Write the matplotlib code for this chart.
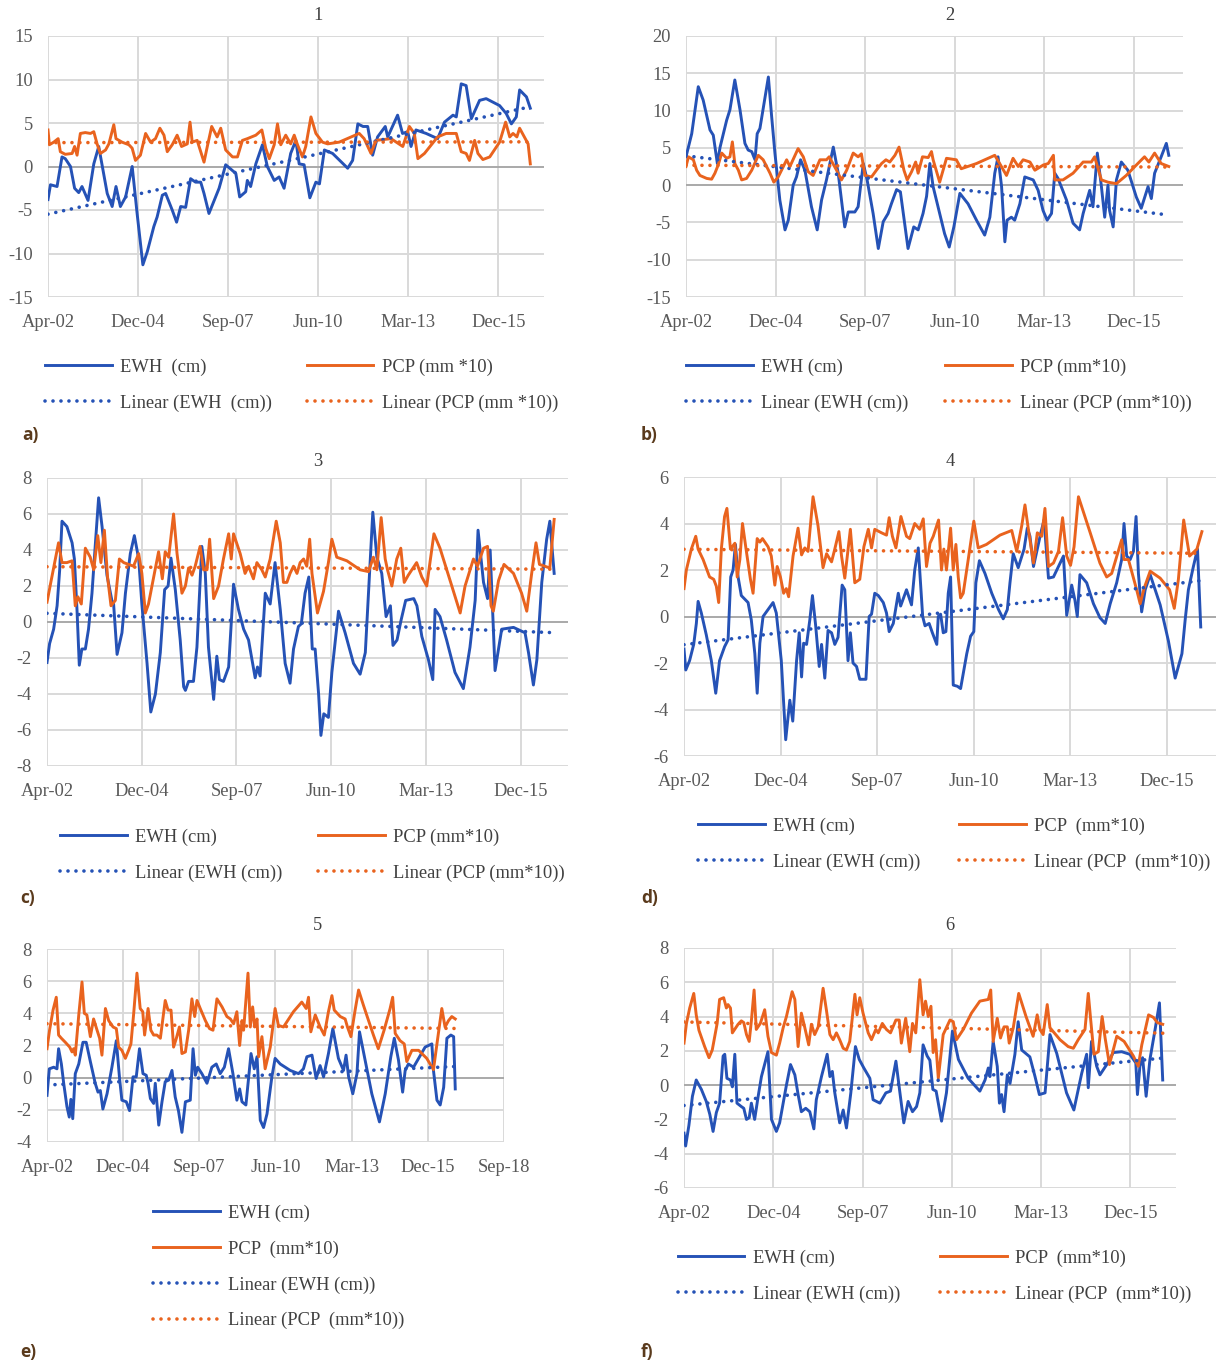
import matplotlib
matplotlib.use('Agg')
import matplotlib.pyplot as plt
import matplotlib.dates as mdates
import numpy as np

plt.rcParams['font.family'] = ['Liberation Serif', 'DejaVu Serif']
plt.rcParams['axes.unicode_minus'] = False

W, H = 1226, 1363
BLUE = '#2552B6'
ORANGE = '#E9631E'
GRID = '#D9D9D9'
TXT = '#404040'

# (months since Apr-2002, value)
ewh1 = [(0, -3.8), (0.9, -2.1), (3.3, -2.3), (5.1, 1.1), (6.3, 0.9), (8.2, 0), (9.7, -2.5), (11.2, -3.0),
        (12.4, -2.3), (14.6, -3.9), (16.7, 0.3), (18.5, 2.3), (21.6, -3.1), (23.4, -4.6), (24.8, -2.3),
        (26.4, -4.6), (28.3, -3.5), (30.7, 0), (32.5, -5.4), (34.6, -11.3), (36.2, -9.8), (38.6, -6.9),
        (39.8, -5.8), (41.7, -3.3), (42.9, -3.1), (45.3, -5.0), (46.9, -6.4), (48.4, -4.6), (50.2, -4.7),
        (52.0, -1.4), (53.8, -1.8), (55.7, -1.8), (56.9, -3.1), (58.7, -5.4), (62.4, -2.5), (64.8, 0.2),
        (68.5, -0.8), (69.9, -3.5), (72.1, -2.9), (72.7, -1.6), (73.9, -2.3), (75.8, 0.3), (78.2, 2.5),
        (80.0, 0), (82.5, -1.6), (84.3, -1.2), (86.1, -2.5), (88.5, 1.5), (90.4, 3.0), (91.6, 0.3),
        (93.4, 0.2), (95.5, -3.6), (97.7, -1.8), (99.0, -2.0), (100.8, 1.9), (103.8, 1.5), (109.3, -0.2),
        (111.1, 0.7), (113.0, 4.9), (114.9, 4.6), (116.6, 4.6), (118.4, 1.3), (120.2, 3.4), (123.0, 4.6),
        (123.9, 3.4), (127.5, 5.9), (129.3, 3.8), (131.2, 4.0), (132.4, 2.3), (134.2, 4.2), (137.9, 3.8),
        (142.1, 3.2), (144.6, 5.1), (147.7, 5.9), (148.9, 5.7), (150.7, 9.5), (152.5, 9.3), (154.4, 5.5),
        (157.4, 7.6), (159.8, 7.8), (164.7, 7.0), (167.1, 6.1), (169.0, 4.9), (170.8, 5.7), (172.0, 8.8),
        (174.5, 8.0), (175.9, 6.7)]
pcp1 = [(0, 4.2), (0.5, 2.5), (2.1, 2.8), (3.7, 3.2), (4.5, 1.7), (6.3, 1.4), (8.8, 1.5), (9.7, 2.3),
        (10.6, 1.3), (11.8, 3.8), (13.6, 3.9), (15.5, 3.8), (16.7, 4.0), (17.9, 2.6), (19.1, 1.5), (21.0, 1.9),
        (22.2, 2.6), (24.0, 4.8), (24.8, 3.2), (27.0, 2.8), (29.5, 2.5), (30.7, 2.1), (31.9, 0.7), (33.7, 1.3),
        (35.6, 3.8), (37.4, 2.8), (39.2, 3.2), (40.8, 4.4), (42.3, 3.6), (43.5, 1.7), (45.3, 2.5), (47.1, 3.6),
        (48.7, 2.3), (50.8, 2.6), (51.8, 5.1), (52.6, 2.8), (54.4, 3.0), (56.9, 0.5), (58.1, 2.3), (59.7, 4.6),
        (61.7, 3.4), (63.0, 4.4), (64.8, 1.9), (67.3, 1.1), (69.1, 1.1), (70.9, 3.0), (72.7, 3.2), (75.8, 3.6),
        (78.0, 4.2), (79.4, 2.1), (80.7, 0.9), (82.5, 2.5), (83.7, 4.9), (84.9, 2.5), (86.7, 3.6), (88.5, 2.6),
        (89.8, 3.6), (91.0, 2.5), (92.8, 1.1), (94.0, 2.3), (95.9, 5.7), (97.7, 3.8), (100.1, 2.8), (102.0, 2.6),
        (106.2, 2.8), (113.5, 3.8), (115.3, 3.2), (117.8, 1.5), (119.6, 3.0), (125.1, 3.2), (129.4, 2.3),
        (131.8, 4.6), (133.6, 3.8), (134.9, 0.9), (137.3, 1.5), (142.1, 3.4), (145.2, 3.8), (148.9, 3.8),
        (150.7, 1.7), (152.5, 1.5), (153.7, 0.7), (155.6, 3.0), (156.8, 1.5), (158.6, 0.8), (161.1, 1.1),
        (164.7, 2.8), (166.9, 5.1), (168.4, 3.4), (169.6, 3.8), (171.0, 3.4), (172.0, 4.4), (175.1, 2.6),
        (175.9, 0.3)]

ewh2 = [(0, 3.8), (2.1, 6.9), (4.5, 13.2), (6.3, 11.4), (8.8, 7.4), (10.0, 6.7), (11.5, 2.9), (12.5, 5.1),
        (14.9, 8.7), (16.1, 10.1), (17.9, 14.1), (19.8, 10.1), (21.6, 5.6), (22.8, 4.7), (24.1, 4.5), (25.3, 3.4),
        (26.1, 6.9), (27.1, 7.6), (30.2, 14.5), (31.4, 9.2), (32.6, 4.3), (34.4, -2.0), (36.3, -6.0), (37.5, -4.7),
        (39.3, 0), (40.5, 1.1), (42.0, 3.4), (43.6, 2.0), (46.0, -2.9), (48.1, -6.0), (49.7, -2.0), (51.5, 0.7),
        (54.0, 5.1), (55.8, 1.6), (58.2, -5.6), (59.5, -3.6), (61.9, -3.6), (63.1, -2.9), (65.0, 2.9), (66.4, 0.7),
        (68.6, -3.8), (70.5, -8.5), (72.3, -4.9), (74.1, -3.8), (75.3, -2.5), (77.2, -0.6), (78.6, -0.9),
        (81.4, -8.5), (83.5, -5.6), (85.1, -6.0), (86.9, -3.8), (88.2, -1.5), (89.4, 2.9), (90.6, -0.2),
        (93.0, -3.8), (94.8, -6.5), (96.5, -8.3), (98.2, -5.6), (100.4, -1.1), (103.4, -2.5), (106.5, -4.7),
        (109.5, -6.7), (111.4, -4.3), (113.2, 1.6), (114.4, 3.8), (115.7, -0.2), (116.9, -7.6), (117.7, -4.7),
        (119.3, -4.3), (120.5, -4.7), (122.4, -2.5), (124.2, 1.1), (127.3, 0.7), (129.1, -0.7), (130.9, -3.4),
        (132.4, -4.7), (134.0, -3.8), (135.2, 1.6), (136.4, 0.9), (139.5, -2.0), (141.9, -5.1), (144.3, -6.0),
        (145.6, -3.8), (148.0, -0.7), (149.2, -2.9), (149.8, -0.2), (150.8, 4.3), (152.3, -0.2), (153.5, -4.3),
        (154.7, 0), (155.3, -3.4), (156.6, -5.6), (157.8, 0.7), (159.6, 3.1), (162.0, 2.0), (165.1, -1.6),
        (166.9, -3.1), (169.4, -0.2), (170.6, -1.8), (171.8, 1.6), (174.2, 3.8), (176.1, 5.6), (177.0, 4.0)]
pcp2 = [(0, 2.5), (0.9, 3.8), (2.7, 3.4), (3.9, 2.0), (5.1, 1.3), (7.6, 0.9), (9.4, 0.8), (10.6, 1.6),
        (11.8, 2.7), (13.1, 4.3), (14.9, 3.6), (16.1, 3.8), (17.0, 5.8), (17.9, 2.9), (19.2, 2.0), (20.4, 0.7),
        (22.2, 0.9), (24.1, 2.0), (26.5, 4.0), (28.3, 3.4), (30.8, 1.6), (32.2, 0.4), (33.8, 1.1), (35.7, 2.5),
        (36.9, 3.4), (38.1, 2.5), (41.1, 4.9), (43.0, 3.8), (44.8, 1.8), (46.6, 1.3), (49.1, 3.4), (51.5, 3.4),
        (52.5, 3.8), (55.2, 2.0), (57.0, 0.7), (58.9, 2.0), (61.3, 4.3), (63.1, 3.8), (64.3, 4.2), (65.6, 1.3),
        (68.0, 1.1), (69.8, 2.0), (71.7, 2.9), (73.3, 3.4), (74.7, 3.1), (76.6, 4.0), (78.1, 5.1), (79.9, 2.0),
        (81.1, 0.7), (82.7, 1.8), (84.2, 3.1), (85.1, 1.6), (86.7, 3.8), (88.8, 3.7), (90.0, 4.5), (90.6, 3.4),
        (93.0, 0.4), (95.5, 3.6), (99.1, 3.4), (100.9, 2.2), (106.5, 2.9), (113.2, 4.0), (115.0, 2.9),
        (117.5, 1.3), (119.9, 3.6), (121.8, 2.5), (123.6, 3.4), (126.1, 3.1), (127.9, 2.0), (131.0, 2.7),
        (132.8, 2.9), (134.7, 4.0), (135.2, 0.7), (138.2, 0.7), (141.9, 1.6), (145.6, 3.1), (148.6, 3.1),
        (149.8, 3.8), (152.3, 0.7), (154.7, 0.4), (157.8, 0.2), (161.4, 1.3), (165.1, 2.7), (168.1, 3.8),
        (169.7, 3.1), (171.8, 4.3), (174.2, 2.9), (177.0, 2.5)]

ewh3 = [(0, -2.25), (0.9, -1.2), (2.3, -0.4), (3.5, 0.9), (4.4, 2.9), (5.2, 5.6), (6.9, 5.3), (8.7, 4.4),
        (9.5, 3.5), (10.4, 0.7), (11.2, -2.4), (12.1, -1.5), (13.3, -1.5), (14.4, -0.4), (15.6, 1.6), (16.8, 4.4),
        (17.9, 6.9), (19.1, 5.3), (20.8, 2.6), (22.5, 1.2), (23.1, 1.0), (24.3, -1.8), (26.0, -0.6), (27.2, 1.6),
        (28.9, 3.8), (30.3, 4.8), (31.8, 3.5), (32.9, 1.0), (34.7, -2.3), (36.0, -5.0), (37.6, -4.0), (39.3, -1.7),
        (40.8, 1.8), (42.0, 2.0), (43.0, 3.55), (44.5, 1.8), (46.2, -1.0), (47.4, -3.6), (48.0, -3.8),
        (49.1, -3.3), (50.8, -3.3), (52.0, -1.4), (53.7, 4.2), (54.9, 2.7), (56.0, -1.4), (57.8, -4.3),
        (58.9, -1.9), (59.8, -3.2), (61.2, -3.3), (63.0, -2.5), (64.7, 2.1), (66.4, 0.7), (68.2, -0.4),
        (69.9, -1.0), (71.1, -2.1), (72.2, -3.1), (73.0, -2.5), (73.9, -3.0), (75.7, 1.6), (77.4, 1.0),
        (79.1, 3.3), (80.9, 0.7), (82.6, -2.3), (84.3, -3.4), (85.5, -1.5), (87.2, -0.25), (88.2, -0.1),
        (89.5, 1.6), (90.8, 2.5), (92.0, -1.5), (93.0, -1.5), (94.2, -4.0), (95.0, -6.3), (96.0, -5.1),
        (97.6, -5.3), (98.8, -2.8), (101.1, 0.6), (103.4, -0.6), (106.3, -2.3), (108.6, -2.9), (110.4, -1.7),
        (111.5, 1.6), (113.0, 6.1), (114.4, 3.6), (116.1, 2.7), (117.6, 0.3), (119.1, 0.9), (120.0, -1.3),
        (121.4, -1.0), (122.8, 0.1), (124.4, 1.2), (127.2, 1.3), (128.3, 0.9), (130.0, -0.8), (132.3, -2.1),
        (133.8, -3.2), (134.6, 0.7), (136.3, 0.3), (138.6, -1.0), (141.5, -2.8), (144.4, -3.7), (146.7, -1.4),
        (148.5, 1.2), (149.5, 5.1), (151.4, 2.2), (152.8, 1.3), (153.7, 4.0), (155.4, -2.7), (157.7, -0.4),
        (161.8, -0.3), (165.8, -0.6), (167.0, -1.7), (168.7, -3.5), (169.9, -2.1), (171.6, 2.2), (173.3, 4.6),
        (174.4, 5.6), (175.9, 2.7)]
pcp3 = [(0, 1.1), (1.2, 2.1), (2.9, 3.5), (4.0, 4.4), (5.2, 3.3), (6.9, 3.3), (8.7, 3.4), (9.8, 0.9),
        (10.7, 1.4), (11.9, 1.0), (13.3, 4.1), (15.0, 3.6), (16.2, 2.9), (17.6, 4.8), (18.7, 3.3), (19.9, 5.1),
        (21.0, 2.5), (22.2, 0.9), (23.7, 1.2), (25.1, 3.5), (26.6, 3.3), (30.0, 3.1), (31.8, 3.8), (32.9, 2.7),
        (34.1, 0.5), (35.2, 1.0), (36.4, 2.0), (38.7, 3.9), (40.0, 2.4), (41.0, 3.9), (42.2, 3.6), (43.9, 6.0),
        (45.1, 3.8), (46.8, 1.6), (48.0, 2.0), (49.1, 3.0), (50.3, 2.6), (51.4, 3.1), (53.1, 4.2), (54.3, 2.9),
        (55.5, 2.9), (56.4, 4.6), (57.8, 1.3), (59.5, 2.0), (61.2, 3.5), (63.0, 4.9), (63.9, 3.5), (64.7, 4.9),
        (67.0, 3.8), (68.7, 2.7), (69.9, 3.1), (71.6, 2.4), (72.8, 3.3), (74.5, 2.9), (75.7, 2.5), (77.4, 3.5),
        (79.5, 5.6), (80.9, 4.4), (82.0, 2.2), (83.2, 2.2), (84.3, 2.7), (85.5, 3.1), (86.7, 2.7), (87.8, 3.3),
        (89.0, 3.5), (90.1, 3.1), (91.1, 4.6), (91.9, 2.7), (93.8, 0.5), (95.9, 1.7), (97.6, 3.3), (98.8, 4.6),
        (100.5, 3.6), (104.0, 3.4), (108.6, 2.9), (111.5, 2.8), (113.2, 3.6), (114.4, 2.9), (115.9, 5.8),
        (117.3, 3.5), (118.1, 2.9), (119.6, 2.0), (121.3, 3.5), (122.7, 4.1), (123.9, 2.2), (125.3, 2.6),
        (128.2, 3.3), (130.0, 2.5), (131.7, 2.0), (134.2, 4.9), (136.3, 4.1), (140.4, 2.0), (143.3, 0.5),
        (145.0, 2.0), (147.9, 3.5), (149.3, 3.1), (151.4, 4.1), (152.8, 4.2), (154.0, 0.9), (154.8, 0.6),
        (156.6, 2.3), (158.5, 3.2), (161.8, 2.7), (164.6, 1.6), (166.4, 0.6), (168.1, 2.7), (169.6, 4.4),
        (170.8, 3.2), (174.4, 3.0), (175.9, 5.7)]

ewh4 = [(0, -1.4), (0.6, -2.3), (1.9, -1.9), (3.3, -1.2), (4.2, -0.3), (4.8, 0.65), (5.9, 0.15), (7.6, -0.8),
        (9.3, -1.9), (10.8, -3.3), (12.1, -1.9), (13.8, -1.3), (15.0, -1.0), (15.9, 1.7), (16.7, 2.0),
        (17.5, 3.1), (18.4, 1.7), (19.5, 0.9), (21.8, 0.6), (22.9, -0.15), (24.1, -1.6), (24.9, -3.3),
        (25.8, -1.15), (26.9, 0), (28.6, 0.3), (30.3, 0.6), (31.4, 0.15), (33.1, -1.9), (34.6, -5.3),
        (36.0, -3.6), (37.0, -4.5), (38.3, -1.9), (39.2, -0.7), (40.0, -2.6), (40.7, -1.15), (41.7, -1.2),
        (42.8, -0.15), (43.7, 0.9), (44.8, -0.4), (46.0, -2.15), (46.8, -1.2), (47.9, -2.65), (49.0, -0.6),
        (50.2, -0.7), (51.3, -1.2), (52.4, -0.9), (53.8, 1.35), (54.7, 1.15), (55.8, -1.9), (56.6, -0.7),
        (57.5, -2.0), (58.7, -2.15), (59.8, -2.7), (61.9, -2.7), (63.0, 0), (63.8, 0.1), (64.9, 1.0),
        (66.1, 0.9), (67.8, 0.6), (68.9, 0.15), (69.8, -0.65), (71.2, -0.3), (72.9, 1.0), (73.7, 0.45),
        (75.7, 1.15), (77.4, 0.5), (78.5, 2.0), (79.7, 2.95), (81.2, 0), (82.0, -0.4), (83.4, -0.3),
        (84.5, -0.7), (86.0, -1.2), (86.5, 0), (87.3, 0.1), (88.2, -0.7), (89.1, -0.65), (89.9, 1.0),
        (90.7, 1.7), (91.6, -2.95), (93.0, -3.0), (94.1, -3.1), (95.2, -2.3), (96.2, -1.6), (97.5, -0.85),
        (98.6, -0.65), (99.3, 1.45), (100.5, 2.4), (102.4, 1.85), (104.7, 1.0), (107.0, 0.3), (108.6, -0.1),
        (110.0, 0.3), (110.9, 1.45), (112.0, 2.7), (113.7, 2.1), (115.7, 2.9), (116.8, 3.8), (117.7, 3.45),
        (118.9, 2.15), (120.2, 2.9), (121.4, 3.6), (122.5, 4.15), (124.0, 1.65), (125.7, 1.7), (129.1, 2.6),
        (130.2, 0.05), (131.9, 1.35), (133.0, 0.7), (133.8, 0), (134.7, 1.8), (137.0, 1.45), (139.3, 0.55),
        (141.5, -0.05), (143.3, -0.3), (145.0, 0.55), (147.2, 1.45), (148.9, 2.45), (149.7, 4.0), (150.6, 2.6),
        (151.8, 2.45), (152.9, 2.8), (153.8, 4.3), (154.6, 1.85), (155.7, 0.2), (156.9, 1.15), (158.6, 1.8),
        (162.0, 0.5), (164.8, -1.05), (167.1, -2.65), (169.4, -1.6), (170.5, -0.15), (171.6, 1.15),
        (173.3, 2.15), (174.7, 2.9), (175.8, -0.45)]
pcp4 = [(0, 1.2), (0.8, 2.0), (2.5, 2.9), (4.0, 3.45), (4.8, 2.9), (6.5, 2.45), (8.7, 1.7), (10.1, 1.6),
        (11.0, 1.3), (11.8, 0.6), (12.7, 2.9), (13.8, 4.3), (14.6, 4.65), (15.8, 2.9), (17.3, 3.15), (18.1, 1.7),
        (19.0, 2.45), (19.9, 4.0), (21.0, 3.0), (22.6, 1.6), (23.5, 1.0), (24.9, 3.35), (25.8, 3.2),
        (26.7, 3.35), (28.6, 3.0), (29.7, 2.6), (30.9, 1.35), (31.7, 2.15), (32.8, 1.7), (33.9, 1.0),
        (34.8, 1.2), (35.6, 0.85), (37.1, 2.6), (38.8, 3.8), (40.0, 2.65), (41.1, 2.95), (42.2, 2.8),
        (43.9, 5.15), (45.6, 3.9), (47.3, 2.1), (48.5, 2.7), (50.2, 2.35), (51.3, 2.9), (52.7, 3.65),
        (53.6, 2.6), (54.7, 1.65), (56.6, 3.75), (58.1, 1.45), (59.8, 1.6), (61.2, 3.0), (62.7, 3.75),
        (63.8, 2.95), (64.9, 3.75), (67.2, 3.6), (68.9, 3.5), (69.8, 4.25), (70.9, 3.45), (72.1, 2.95),
        (73.8, 4.3), (75.7, 3.45), (76.8, 3.35), (78.5, 4.0), (80.2, 3.75), (81.4, 4.2), (82.5, 2.15),
        (83.7, 3.15), (84.8, 3.45), (86.6, 4.15), (87.6, 2.0), (88.4, 2.9), (89.3, 2.0), (90.7, 3.8),
        (91.6, 2.0), (92.5, 3.1), (93.3, 1.7), (94.1, 0.8), (95.0, 1.0), (96.7, 2.45), (98.6, 4.1),
        (100.1, 2.95), (102.9, 3.1), (107.5, 3.5), (111.5, 3.7), (113.2, 2.8), (114.9, 3.9), (116.0, 4.8),
        (117.1, 3.8), (118.9, 2.3), (120.2, 3.6), (121.7, 3.45), (122.8, 4.65), (124.0, 2.15), (125.7, 2.3),
        (127.4, 2.8), (128.8, 4.25), (130.2, 2.6), (131.5, 2.2), (132.7, 3.0), (134.2, 5.15), (138.2, 3.6),
        (141.5, 2.3), (143.8, 1.7), (145.5, 1.85), (148.9, 3.3), (149.7, 2.45), (151.2, 2.45), (154.0, 1.15),
        (155.2, 0.55), (156.5, 1.2), (158.6, 1.95), (162.0, 1.65), (165.2, 1.15), (166.8, 0.35), (168.2, 1.6),
        (170.0, 4.15), (172.0, 2.6), (174.5, 2.9), (176.2, 3.65)]

ewh5 = [(0, -1.1), (1.0, 0.55), (2.9, 0.65), (4.3, 0.55), (5.0, 1.8), (6.2, 0.85), (7.2, -0.35), (8.6, -1.8),
        (9.6, -2.45), (10.3, -1.35), (11.1, -2.55), (12.2, 0.25), (13.7, 0.85), (15.5, 2.2), (16.9, 2.2),
        (18.7, 1.0), (20.8, -0.35), (22.0, -0.9), (23.0, -0.8), (24.1, -1.95), (25.9, -1.0), (28.0, 0.65),
        (29.9, 2.3), (31.3, -0.05), (32.3, -1.4), (34.2, -1.5), (35.6, -2.05), (37.1, 0.05), (38.5, 0.05),
        (39.9, 1.8), (41.4, 0.25), (42.8, 0.15), (43.6, -0.35), (44.6, -1.3), (46.0, -1.6), (46.7, -0.35),
        (48.2, -2.95), (49.6, -1.5), (51.0, -0.25), (52.5, -0.15), (53.9, 0.45), (55.3, -1.2), (56.7, -2.05),
        (58.2, -3.4), (59.7, -1.5), (61.8, -1.4), (63.0, 1.8), (64.0, 0.15), (65.0, 0.65), (66.8, 0.25),
        (69.0, -0.35), (71.1, 0.65), (73.0, 0.85), (74.7, 0.25), (76.5, 0.65), (78.3, 1.8), (80.2, 0.25),
        (81.9, -1.4), (83.1, -0.7), (84.1, -1.5), (85.8, -1.7), (88.0, 1.5), (89.4, 0.55), (90.6, 1.3),
        (92.0, -2.65), (93.4, -3.1), (94.9, -2.25), (97.0, 0.05), (98.4, 1.2), (100.6, 0.85), (104.9, 0.45),
        (108.5, 0.25), (110.6, 0.55), (112.1, 1.3), (114.3, 1.4), (116.1, -0.05), (117.8, 0.75), (119.3, 0.05),
        (121.4, 1.5), (123.3, 3.05), (125.7, 1.2), (127.9, 0.45), (129.0, 1.4), (130.1, 0.05), (131.9, -1.0),
        (133.7, 0.25), (134.8, 2.85), (137.2, 1.1), (140.1, -1.0), (143.4, -2.75), (145.9, -1.0), (148.3, 1.3),
        (149.8, 2.45), (151.6, 1.1), (153.4, -0.9), (154.5, 0.45), (155.9, 0.85), (158.1, 0.65), (160.3, 1.2),
        (163.1, 1.9), (166.0, 2.1), (166.7, 0.45), (168.2, -1.4), (169.6, -1.7), (171.1, -0.6), (172.5, 2.45),
        (174.2, 2.65), (175.4, 2.55), (176.1, -0.7)]
pcp5 = [(0, 1.8), (1.1, 2.95), (2.6, 4.2), (4.0, 5.0), (5.0, 2.65), (6.2, 2.45), (7.9, 2.2), (9.8, 1.9),
        (10.8, 1.6), (11.5, 1.8), (12.2, 1.4), (13.7, 3.9), (15.1, 5.95), (16.1, 4.0), (17.2, 3.9), (18.7, 2.55),
        (20.1, 3.65), (21.6, 2.95), (22.7, 2.45), (23.7, 1.4), (25.2, 4.3), (26.6, 3.55), (28.5, 3.15),
        (29.9, 3.05), (30.9, 1.9), (32.3, 1.7), (33.8, 1.2), (35.2, 1.7), (36.2, 2.1), (37.4, 4.0), (38.8, 6.5),
        (40.2, 4.3), (41.3, 4.1), (42.1, 2.65), (43.6, 4.3), (44.8, 2.95), (46.0, 2.65), (47.4, 2.65),
        (48.9, 2.45), (51.0, 4.8), (52.2, 4.2), (53.5, 4.2), (54.6, 1.9), (55.8, 2.45), (57.1, 3.15), (58.2, 1.5),
        (59.7, 1.6), (61.1, 2.95), (62.5, 4.9), (63.7, 3.8), (64.7, 4.8), (66.1, 4.3), (68.3, 3.55), (70.1, 3.05),
        (71.6, 2.95), (73.3, 4.9), (75.5, 4.4), (77.6, 3.8), (79.1, 3.65), (80.5, 3.35), (81.9, 4.1), (83.1, 2.0),
        (84.1, 3.55), (84.8, 2.95), (86.7, 6.5), (87.7, 3.15), (88.7, 4.4), (89.6, 3.15), (90.6, 3.65),
        (91.3, 1.3), (92.7, 2.55), (94.1, 0.55), (96.3, 1.9), (98.4, 4.3), (99.8, 3.25), (102.0, 3.15),
        (106.3, 4.1), (109.9, 4.7), (111.8, 4.3), (112.8, 5.0), (113.8, 2.85), (115.7, 3.9), (117.8, 3.15),
        (119.6, 2.65), (121.4, 4.1), (122.9, 5.1), (123.9, 4.2), (126.5, 3.8), (128.6, 3.65), (129.6, 3.15),
        (131.1, 2.55), (132.9, 4.2), (134.4, 5.45), (136.5, 4.5), (138.7, 3.55), (140.8, 2.65), (142.9, 1.8),
        (145.4, 2.95), (148.0, 4.3), (149.1, 5.0), (150.2, 2.75), (152.3, 2.3), (154.1, 2.1), (155.2, 1.0),
        (157.4, 1.7), (160.3, 1.7), (163.8, 1.2), (166.7, 0.5), (168.2, 2.1), (170.3, 4.3), (171.7, 3.15),
        (173.2, 3.55), (174.6, 3.8), (176.1, 3.65)]

ewh6 = [(0, -2.8), (0.6, -3.55), (1.8, -2.35), (3.1, -0.65), (4.5, 0.3), (6.4, -0.25), (8.2, -0.95), (9.5, -1.7),
        (10.7, -2.7), (11.9, -1.6), (13.1, -1.05), (14.4, 1.7), (15.0, 1.8), (15.8, 0.4), (17.1, 0.3),
        (17.8, -0.1), (18.7, 1.8), (19.5, -1.05), (21.1, -1.25), (22.0, -1.35), (23.0, -2.0), (24.0, -1.9),
        (24.8, -1.05), (26.0, -2.0), (27.3, -0.65), (28.5, 0.5), (30.9, 1.95), (32.2, -2.0), (34.0, -2.7),
        (35.2, -2.2), (36.5, -1.05), (37.7, 0), (39.2, 1.2), (40.8, 0.6), (42.0, -0.55), (43.2, -1.55),
        (44.8, -1.35), (46.3, -1.55), (47.8, -2.55), (48.7, -0.85), (50.6, 0.5), (52.7, 1.8), (53.7, 0.5),
        (54.6, 0.8), (55.5, -0.45), (57.3, -2.2), (58.6, -1.45), (59.8, -2.5), (61.4, -0.45), (63.1, 2.25),
        (64.5, 1.5), (66.2, 1.0), (68.4, 0.4), (69.6, -0.85), (72.1, -1.05), (74.3, -0.45), (76.0, -0.35),
        (78.0, 1.4), (79.4, -0.35), (80.9, -2.2), (82.5, -0.95), (84.1, -1.55), (85.6, -1.25), (86.8, -0.45),
        (88.0, 2.35), (89.5, 1.7), (90.5, 1.45), (91.6, -0.25), (92.8, -0.35), (94.8, -2.1), (96.6, -0.45),
        (98.8, 3.15), (101.0, 1.5), (104.6, 0.4), (108.9, -0.35), (110.8, 0.3), (112.0, 1.0), (112.6, 0.5),
        (113.8, 2.55), (115.3, 1.1), (116.1, -1.05), (116.9, -0.55), (117.8, -1.55), (119.0, 0.6), (120.0, 0.1),
        (121.8, 1.8), (123.0, 3.7), (124.3, 2.05), (127.3, 1.65), (129.2, 0.5), (130.8, -0.55), (132.9, -0.45),
        (134.7, 2.95), (137.2, 1.85), (140.8, -0.45), (143.5, -1.45), (146.4, 0.7), (148.2, 1.8),
        (148.8, -0.15), (150.0, 2.55), (151.9, 1.1), (153.1, 0.6), (155.6, 1.2), (158.0, 1.9), (161.1, 1.95),
        (164.1, 1.8), (166.3, 1.3), (166.9, -0.55), (167.8, 1.1), (168.8, 1.6), (170.1, -0.65), (171.5, 1.5),
        (173.4, 3.25), (175.0, 4.8), (176.2, 0.3)]
pcp6 = [(0, 2.45), (0.9, 3.6), (2.1, 4.5), (3.6, 5.35), (4.5, 4.1), (5.5, 3.2), (7.6, 2.25), (9.2, 1.6),
        (10.4, 2.05), (12.2, 3.6), (13.1, 5.0), (14.6, 5.1), (15.6, 4.5), (16.2, 4.7), (17.1, 4.5), (17.8, 3.05),
        (19.9, 3.55), (21.1, 3.75), (22.0, 3.65), (23.0, 2.95), (24.0, 2.55), (24.8, 3.75), (25.8, 5.55),
        (26.6, 3.25), (28.1, 3.6), (29.7, 4.4), (30.9, 2.85), (32.2, 1.9), (34.0, 1.75), (35.2, 2.45),
        (36.5, 3.35), (37.7, 4.0), (39.8, 5.45), (40.8, 5.0), (42.0, 2.25), (43.2, 4.2), (44.4, 3.4),
        (45.9, 2.35), (46.9, 3.55), (48.1, 2.95), (49.4, 3.4), (51.2, 5.65), (52.4, 4.4), (53.7, 2.95),
        (54.9, 2.65), (56.1, 3.05), (57.3, 2.65), (58.6, 2.15), (59.8, 2.05), (61.0, 2.55), (62.9, 5.3),
        (63.7, 4.1), (64.7, 5.1), (65.9, 4.2), (67.8, 3.05), (69.0, 2.65), (70.6, 3.25), (71.5, 3.05),
        (73.0, 3.6), (74.5, 3.25), (76.0, 3.05), (78.0, 3.8), (79.2, 3.8), (80.0, 2.45), (81.6, 3.9),
        (83.1, 1.95), (84.1, 3.6), (85.3, 3.05), (86.8, 6.15), (88.0, 4.1), (88.9, 4.9), (89.9, 4.0),
        (90.9, 4.6), (91.7, 1.9), (92.6, 2.65), (93.6, 0.4), (95.4, 2.95), (97.9, 3.8), (99.1, 3.7),
        (100.3, 2.65), (102.8, 3.25), (105.8, 4.2), (108.9, 4.9), (112.0, 5.0), (112.9, 5.55), (113.8, 2.55),
        (115.3, 3.9), (116.5, 2.75), (117.8, 3.4), (119.0, 3.4), (119.7, 2.45), (121.2, 3.35), (123.2, 5.35),
        (125.9, 4.0), (128.5, 2.85), (130.0, 4.1), (131.0, 3.25), (132.2, 2.95), (133.7, 4.7), (134.7, 3.35),
        (138.4, 2.65), (141.4, 2.25), (143.3, 2.15), (145.1, 2.65), (147.6, 3.25), (148.8, 5.35), (149.7, 3.8),
        (150.9, 1.8), (152.5, 1.95), (153.9, 4.0), (155.0, 2.75), (156.6, 1.2), (159.3, 2.85), (162.0, 2.55),
        (165.4, 1.7), (167.2, 1.1), (168.5, 2.35), (171.0, 4.1), (172.8, 3.95), (174.2, 3.65), (176.2, 3.55)]

BASE = mdates.datestr2num('2002-04-04')


def to_x(months):
    return BASE + np.asarray(months) * 30.4375


def px_axes(left, top, right, bottom):
    return fig.add_axes([left / W, 1 - bottom / H, (right - left) / W, (bottom - top) / H])


def draw_panel(ax, ewh, pcp, ylim, ystep, xmax_days, nticks):
    em, ev = np.array(ewh).T
    pm, pv = np.array(pcp).T
    ex, px = to_x(em), to_x(pm)
    l1, = ax.plot(ex, ev, color=BLUE, lw=2.1, zorder=3, solid_joinstyle='round')
    l2, = ax.plot(px, pv, color=ORANGE, lw=2.1, zorder=3, solid_joinstyle='round')
    trends = []
    for x, v, c in [(ex, ev, BLUE), (px, pv, ORANGE)]:
        w = np.sqrt(np.gradient(x))
        k, b = np.polyfit(x, v, 1, w=w)
        xs = np.array([x[0], x[-1]])
        t, = ax.plot(xs, k * xs + b, color=c, lw=2.6, linestyle=(0, (0.01, 2.2)),
                     dash_capstyle='round', zorder=4)
        trends.append(t)
    ax.axhline(0, color='#A6A6A6', lw=1.3, zorder=2)
    ax.set_ylim(*ylim)
    ax.set_yticks(np.arange(ylim[0], ylim[1] + 0.1, ystep))
    ax.set_xlim(BASE, BASE + xmax_days)
    ax.set_xticks(BASE + np.arange(nticks) * 1000)
    ax.xaxis.set_major_formatter(mdates.DateFormatter('%b-%y'))
    ax.grid(True, color=GRID, lw=1.4)
    ax.set_axisbelow(True)
    for s in ax.spines.values():
        s.set_visible(False)
    ax.tick_params(length=0, labelsize=13.3, colors='#595959', labelcolor='#595959')
    ax.tick_params(axis='y', pad=11)
    ax.tick_params(axis='x', pad=12)
    return l1, l2, trends[0], trends[1]


def add_legend(handles, labels, x, ymid):
    fig.legend(handles, labels, loc='center left', bbox_to_anchor=(x / W, 1 - ymid / H),
               frameon=False, fontsize=13.3, handlelength=3.6, handletextpad=0.45,
               labelspacing=1.0, borderpad=0, borderaxespad=0, labelcolor=TXT)


fig = plt.figure(figsize=(W / 100, H / 100), dpi=100)

panels = [
    # ewh, pcp, box(l,t,r,b), ylim, step, xmax, nticks, title pos, title, labels, legend x, legend y, label pos, label
    (ewh1, pcp1, (48, 36, 544, 297), (-15, 15), 5, 5506, 6, (318, 15), '1',
     ['EWH  (cm)', 'Linear (EWH  (cm))', 'PCP (mm *10)', 'Linear (PCP (mm *10))'],
     (45, 307), 385, (22, 435), 'a)'),
    (ewh2, pcp2, (686, 36, 1183, 297), (-15, 20), 5, 5546, 6, (950, 15), '2',
     ['EWH (cm)', 'Linear (EWH (cm))', 'PCP (mm*10)', 'Linear (PCP (mm*10))'],
     (686, 945), 385, (641, 435), 'b)'),
    (ewh3, pcp3, (47, 478, 568, 766), (-8, 8), 2, 5500, 6, (318, 462), '3',
     ['EWH (cm)', 'Linear (EWH (cm))', 'PCP (mm*10)', 'Linear (PCP (mm*10))'],
     (60, 318), 855, (20, 898), 'c)'),
    (ewh4, pcp4, (684, 477, 1216, 756), (-6, 6), 2, 5509, 6, (950, 462), '4',
     ['EWH (cm)', 'Linear (EWH (cm))', 'PCP  (mm*10)', 'Linear (PCP  (mm*10))'],
     (698, 959), 844, (641, 898), 'd)'),
    (ewh5, pcp5, (47, 949, 504, 1142), (-4, 8), 2, 6000, 7, (318, 925), '5',
     ['EWH (cm)', 'PCP  (mm*10)', 'Linear (EWH (cm))', 'Linear (PCP  (mm*10))'],
     (153,), 1267, (20, 1352), 'e)'),
    (ewh6, pcp6, (684, 948, 1176, 1188), (-6, 8), 2, 5512, 6, (950, 925), '6',
     ['EWH (cm)', 'Linear (EWH (cm))', 'PCP  (mm*10)', 'Linear (PCP  (mm*10))'],
     (678, 940), 1276, (641, 1352), 'f)'),
]

for (ewh, pcp, box, ylim, step, xmax, nt, tpos, title, labels, lx, ly, ppos, plabel) in panels:
    ax = px_axes(*box)
    l1, l2, t1, t2 = draw_panel(ax, ewh, pcp, ylim, step, xmax, nt)
    fig.text(tpos[0] / W, 1 - tpos[1] / H, title, ha='center', va='center', fontsize=13.3, color=TXT)
    if len(lx) == 2:
        add_legend([l1, t1], labels[:2], lx[0], ly)
        add_legend([l2, t2], labels[2:], lx[1], ly)
    else:
        add_legend([l1, l2, t1, t2], labels, lx[0], ly)
    fig.text(ppos[0] / W, 1 - ppos[1] / H, plabel, ha='left', va='center', fontsize=12.5,
             fontweight='bold', family=['Open Sans', 'DejaVu Sans'], color='#5A3A1C')

fig.savefig('out.png', dpi=100)
